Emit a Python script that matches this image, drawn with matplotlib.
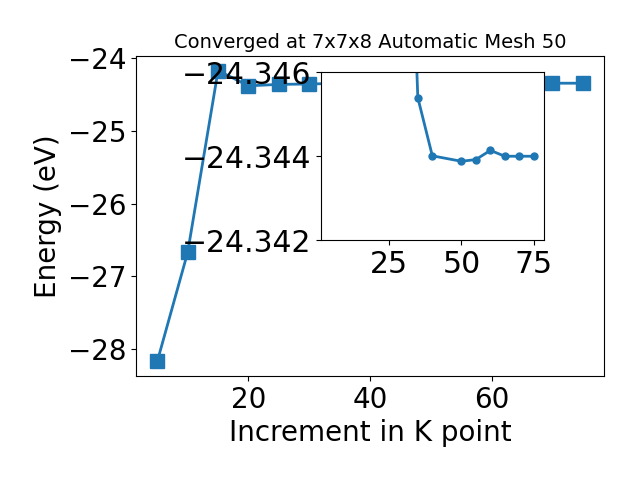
import matplotlib
matplotlib.use("Agg")
import matplotlib.pyplot as plt

kpoints = [5, 10, 15, 20, 25, 30, 35, 40, 50, 55, 60, 65, 70, 75]
energy = [-28.17, -26.67, -24.17, -24.38, -24.36, -24.355, -24.3454,
          -24.34401, -24.34388, -24.34392, -24.34414, -24.34400,
          -24.34400, -24.34400]

inset_start = 5  # inset shows points from k = 30 onward
inset_xticks = [25, 50, 75]
inset_yticks = [-24.346, -24.344, -24.342]

fig = plt.figure(figsize=(6.4, 4.8), dpi=100)
ax = fig.add_axes([0.2125, 0.2167, 0.7315, 0.6666])
ax.plot(kpoints, energy, marker='s', markersize=10, linewidth=2, color='#1f77b4')
ax.set_xlabel('Increment in K point', fontsize=20)
ax.set_ylabel('Energy (eV)', fontsize=20)
ax.set_title('Converged at 7x7x8 Automatic Mesh 50', fontsize=14)
ax.tick_params(labelsize=20)

ins = fig.add_axes([0.501, 0.5, 0.349, 0.349])
ins.plot(kpoints[inset_start:], energy[inset_start:], marker='o', markersize=5,
         linewidth=2, color='#1f77b4')
ins.set_xlim(ax.get_xlim())
ins.set_ylim(-24.342, -24.346)
ins.set_yticks(inset_yticks)
ins.set_xticks(inset_xticks)
ins.ticklabel_format(axis='y', useOffset=False)
ins.tick_params(labelsize=21.5)

fig.savefig('out.png', dpi=100)
